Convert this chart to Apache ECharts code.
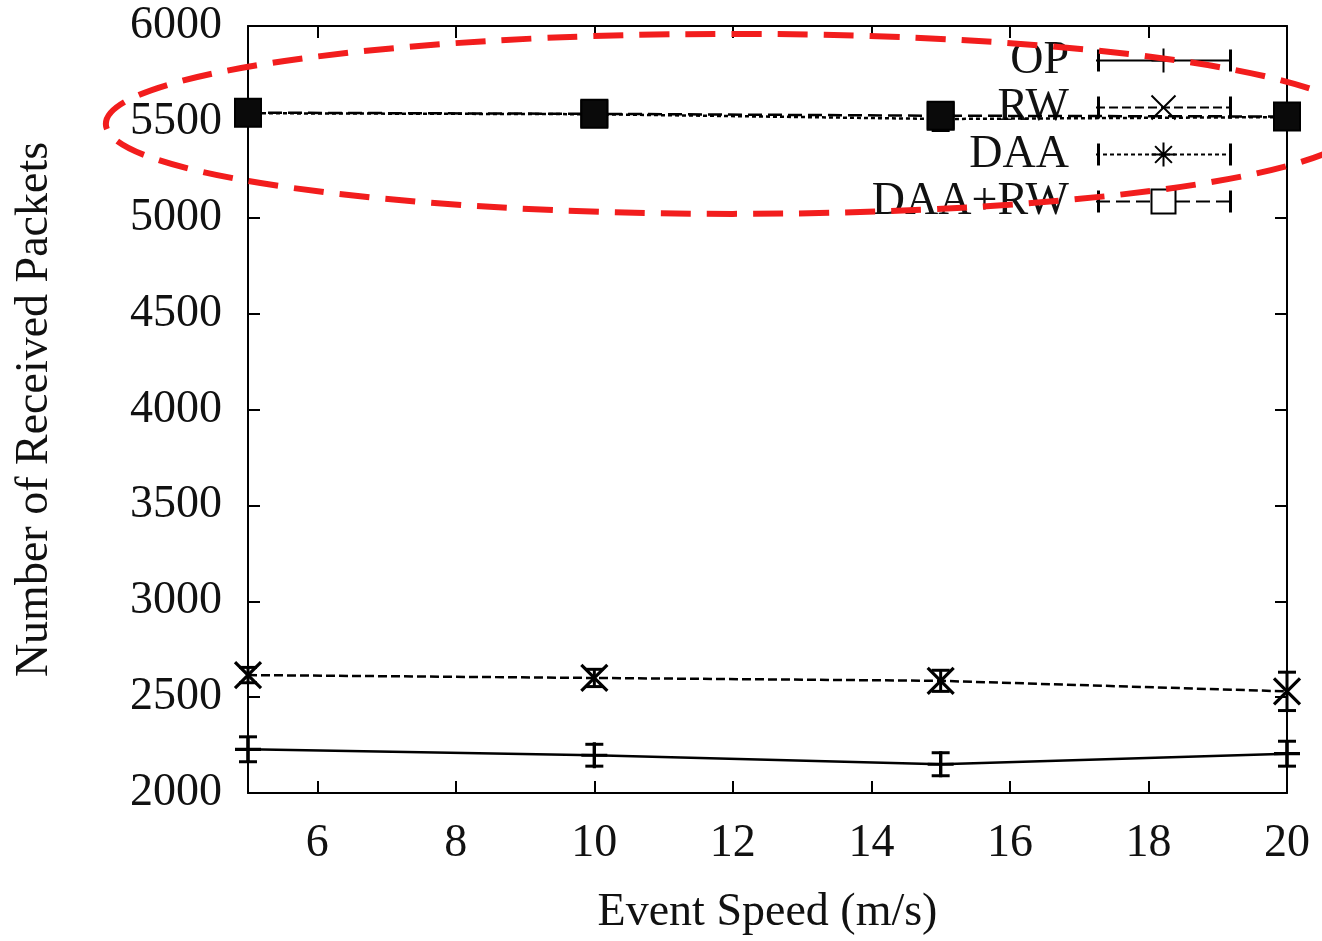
<!DOCTYPE html>
<html><head><meta charset="utf-8">
<script src="https://cdn.jsdelivr.net/npm/echarts@6/dist/echarts.min.js"></script>
<style>html,body{margin:0;padding:0;background:#fff}#c{width:1322px;height:941px}</style>
</head><body><div id="c"></div>
<script>
// ---- data ----
const speeds = [5, 10, 15, 20];
const xTicks = [6, 8, 10, 12, 14, 16, 18, 20];
const yTicks = [2000, 2500, 3000, 3500, 4000, 4500, 5000, 5500, 6000];
const seriesNames = ['OP', 'RW', 'DAA', 'DAA+RW'];
const opValues = [2228, 2197, 2150, 2205];
const opErr = [65, 57, 60, 65];
const rwValues = [2615, 2600, 2585, 2530];
const rwErr = [40, 45, 55, 100];
const daaValues = [5545, 5540, 5515, 5525];
const daaErr = [30, 25, 60, 30];
const daarwValues = [5548, 5542, 5532, 5528];
const daarwErr = [20, 20, 30, 25];

const FONT = 'Liberation Serif';
const chart = echarts.init(document.getElementById('c'), null, {renderer: 'canvas'});

const symPlus = 'path://M0,-10L0,10M-10,0L10,0';
const symCross = 'path://M-10,-10L10,10M-10,10L10,-10';
const symStar = 'path://M-10,0L10,0M0,-10L0,10M-7,-7L7,7M-7,7L7,-7';

function lineSeries(name, vals, sym, dash, z) {
  return {
    type: 'line', name, z,
    data: speeds.map((s, i) => [s, vals[i]]),
    symbol: sym, symbolSize: 26, showSymbol: true, clip: false,
    lineStyle: {color: '#000', width: 2.5, type: dash},
    itemStyle: {color: '#000', borderColor: '#000', borderWidth: 3.2},
    emphasis: {disabled: true}
  };
}
function errSeries(vals, errs, z, box) {
  return {
    type: 'custom', silent: true, z, clip: false,
    data: speeds.map((s, i) => [s, vals[i] - errs[i], vals[i] + errs[i], vals[i]]),
    renderItem(params, api) {
      const lo = api.coord([api.value(0), api.value(1)]);
      const hi = api.coord([api.value(0), api.value(2)]);
      const mid = api.coord([api.value(0), api.value(3)]);
      const w = 9;
      const st = {stroke: '#000', lineWidth: 3};
      const ch = [
        {type: 'line', shape: {x1: lo[0], y1: lo[1], x2: hi[0], y2: hi[1]}, style: st},
        {type: 'line', shape: {x1: lo[0] - w, y1: lo[1], x2: lo[0] + w, y2: lo[1]}, style: st},
        {type: 'line', shape: {x1: hi[0] - w, y1: hi[1], x2: hi[0] + w, y2: hi[1]}, style: st}
      ];
      if (box) {
        ch.push({type: 'rect', shape: {x: mid[0] - 13, y: mid[1] - 14, width: 26, height: 28},
          style: {fill: '#0a0a0a', stroke: '#000', lineWidth: 2}});
      }
      return {type: 'group', children: ch};
    }
  };
}

const axisCommon = {
  axisLine: {show: true, lineStyle: {color: '#000', width: 2}},
  splitLine: {show: false}
};
const tickStyle = {color: '#000', width: 2};

chart.setOption({
  animation: false,
  backgroundColor: '#fff',
  grid: {left: 248, right: 35, top: 26, bottom: 142, containLabel: false},
  xAxis: [
    Object.assign({
      type: 'value', min: 5, max: 20, position: 'bottom',
      name: 'Event Speed (m/s)', nameLocation: 'middle', nameGap: 97,
      nameTextStyle: {fontFamily: FONT, fontSize: 46, color: '#111'},
      axisTick: {show: true, inside: true, length: 12, customValues: xTicks, lineStyle: tickStyle},
      axisLabel: {show: true, customValues: xTicks, fontFamily: FONT, fontSize: 46, color: '#111', margin: 28,
        formatter: v => String(v)}
    }, axisCommon),
    Object.assign({
      type: 'value', min: 5, max: 20, position: 'top',
      axisTick: {show: true, inside: true, length: 12, customValues: xTicks, lineStyle: tickStyle},
      axisLabel: {show: false}
    }, axisCommon)
  ],
  yAxis: [
    Object.assign({
      type: 'value', min: 2000, max: 6000, interval: 500, position: 'left',
      name: 'Number of Received Packets', nameLocation: 'middle', nameGap: 190, nameRotate: 90,
      nameTextStyle: {fontFamily: FONT, fontSize: 46, color: '#111'},
      axisTick: {show: true, inside: true, length: 12, customValues: yTicks, lineStyle: tickStyle},
      axisLabel: {show: true, customValues: yTicks, fontFamily: FONT, fontSize: 46, color: '#111', margin: 26,
        formatter: v => String(v)}
    }, axisCommon),
    Object.assign({
      type: 'value', min: 2000, max: 6000, interval: 500, position: 'right',
      axisTick: {show: true, inside: true, length: 12, customValues: yTicks, lineStyle: tickStyle},
      axisLabel: {show: false}
    }, axisCommon)
  ],
  legend: {
    data: seriesNames, orient: 'vertical', align: 'right',
    right: 90, top: 37, padding: 0, itemGap: 0,
    itemWidth: 135, itemHeight: 30,
    textStyle: {fontFamily: FONT, fontSize: 46, color: '#111', lineHeight: 47, padding: [0, 22, 0, 0]},
    selectedMode: false
  },
  series: [
    errSeries(opValues, opErr, 2, false),
    errSeries(rwValues, rwErr, 2, false),
    errSeries(daaValues, daaErr, 2, false),
    errSeries(daarwValues, daarwErr, 6, true),
    lineSeries('OP', opValues, symPlus, 'solid', 3),
    lineSeries('RW', rwValues, symCross, [9, 4], 3),
    lineSeries('DAA', daaValues, symStar, [4, 3], 5),
    lineSeries('DAA+RW', daarwValues, 'emptyRect', [14, 6], 4)
  ]
});

// red dashed annotation ellipse + legend sample end caps (decorations)
const ctr = chart.convertToPixel({xAxisIndex: 0, yAxisIndex: 0}, [12, 5500]);
const capX = [1322 - 90 - 135 + 1.5, 1322 - 90 - 1.5];
const caps = [];
seriesNames.forEach((n, i) => {
  const cy = 37 + 23.5 + 47 * i;
  capX.forEach(cx => caps.push({
    type: 'line', silent: true, z: 50,
    shape: {x1: cx, y1: cy - 11, x2: cx, y2: cy + 11},
    style: {stroke: '#000', lineWidth: 3}
  }));
});
chart.setOption({
  graphic: caps.concat([{
    type: 'ellipse', z: 100, silent: true,
    shape: {cx: ctr[0], cy: ctr[1] + 2, rx: 627, ry: 90},
    style: {fill: 'none', stroke: '#f21d1d', lineWidth: 6, lineDash: [30, 16]}
  }])
});
</script></body></html>
